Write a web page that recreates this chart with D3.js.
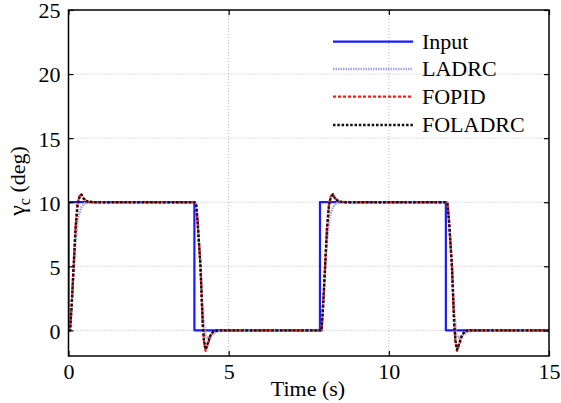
<!DOCTYPE html>
<html>
<head>
<meta charset="utf-8">
<script src="https://cdn.jsdelivr.net/npm/d3@7"></script>
<style>
  html, body { margin: 0; padding: 0; background: #fff; }
  svg { display: block; }
</style>
</head>
<body>
<svg id="chart" width="561" height="403"></svg>
<script>
// ---------------- data ----------------
const xTicks = [0, 5, 10, 15];
const yTicks = [0, 5, 10, 15, 20, 25];
const seriesNames = ["Input", "LADRC", "FOPID", "FOLADRC"];

const inputT = [0, 0, 3.93, 3.93, 7.85, 7.85, 11.78, 11.78, 15];
const inputV = [0, 10, 10, 0, 0, 10, 10, 0, 0];

const ladrcT = [0, 0.05, 0.10, 0.16, 0.22, 0.30, 0.40, 0.52, 0.70,
  3.93, 3.98, 4.03, 4.12, 4.19, 4.26, 4.33, 4.45, 4.60, 4.80,
  7.85, 7.90, 7.95, 8.01, 8.07, 8.15, 8.25, 8.37, 8.55,
  11.78, 11.83, 11.88, 11.97, 12.04, 12.11, 12.18, 12.30, 12.45, 12.65, 15];
const ladrcV = [0, 0, 2.0, 4.6, 7.0, 8.8, 9.6, 9.95, 10,
  10, 10, 8.5, 5.0, 1.5, -0.3, -0.6, -0.4, -0.15, 0,
  0, 0, 2.0, 4.6, 7.0, 8.8, 9.6, 9.95, 10,
  10, 10, 8.5, 5.0, 1.5, -0.3, -0.6, -0.4, -0.15, 0, 0];

const fopidT = [0, 0.05, 0.10, 0.16, 0.22, 0.28, 0.33, 0.39, 0.47, 0.60, 0.80,
  3.93, 3.98, 4.03, 4.12, 4.19, 4.23, 4.28, 4.35, 4.43, 4.53, 4.68,
  7.85, 7.90, 7.95, 8.01, 8.07, 8.13, 8.18, 8.24, 8.32, 8.45, 8.65,
  11.78, 11.83, 11.88, 11.97, 12.04, 12.08, 12.13, 12.20, 12.28, 12.38, 12.53, 15];
const fopidV = [0, 0, 2.0, 5.0, 8.0, 9.8, 10.4, 10.7, 10.3, 10.05, 10,
  10, 9.9, 8.5, 5.0, 0.5, -0.9, -1.6, -1.1, -0.4, -0.05, 0,
  0, 0, 2.0, 5.0, 8.0, 9.8, 10.4, 10.7, 10.3, 10.05, 10,
  10, 9.9, 8.5, 5.0, 0.5, -0.9, -1.6, -1.1, -0.4, -0.05, 0, 0];

const foladrcT = [0, 0.05, 0.10, 0.16, 0.22, 0.28, 0.33, 0.40, 0.48, 0.60, 0.80,
  3.93, 3.98, 4.03, 4.12, 4.19, 4.23, 4.28, 4.35, 4.43, 4.53, 4.68,
  7.85, 7.90, 7.95, 8.01, 8.07, 8.13, 8.18, 8.25, 8.33, 8.45, 8.65,
  11.78, 11.83, 11.88, 11.97, 12.04, 12.08, 12.13, 12.20, 12.28, 12.38, 12.53, 15];
const foladrcV = [0, 0, 2.0, 5.0, 8.0, 9.7, 10.3, 10.6, 10.25, 10.05, 10,
  10, 9.9, 8.5, 5.0, 0.5, -0.8, -1.5, -1.0, -0.4, -0.05, 0,
  0, 0, 2.0, 5.0, 8.0, 9.7, 10.3, 10.6, 10.25, 10.05, 10,
  10, 9.9, 8.5, 5.0, 0.5, -0.8, -1.5, -1.0, -0.4, -0.05, 0, 0];

// ---------------- layout ----------------
const FONT = "'Liberation Serif', 'Times New Roman', Times, serif";
const svg = d3.select("#chart").style("font-family", FONT);
const L = 68.5, R = 549, T = 10, B = 356;
const x = d3.scaleLinear().domain([0, 15]).range([L, R]);
const y = d3.scaleLinear().domain([-2, 25]).range([B, T]);

const styles = {
  "Input":   { stroke: "#1a1aff", width: 2.2, dash: null },
  "LADRC":   { stroke: "#a4a4dc", width: 2.4, dash: "1.5,1" },
  "FOPID":   { stroke: "#ff1a1a", width: 2.3, dash: "3,2" },
  "FOLADRC": { stroke: "#111111", width: 2.4, dash: "2.5,1.8" }
};

// grid
const grid = svg.append("g");
grid.selectAll("line.gx").data(xTicks.filter(d => d > 0 && d < 15)).join("line")
  .attr("x1", d => x(d)).attr("x2", d => x(d)).attr("y1", T).attr("y2", B)
  .attr("stroke", "#b8b8b8").attr("stroke-width", 1).attr("stroke-dasharray", "1,2");
grid.selectAll("line.gy").data(yTicks.filter(d => d < 25)).join("line")
  .attr("x1", L).attr("x2", R).attr("y1", d => y(d)).attr("y2", d => y(d))
  .attr("stroke", "#b8b8b8").attr("stroke-width", 1).attr("stroke-dasharray", "1,2");

// series
const series = [
  { name: "Input", t: inputT, v: inputV },
  { name: "LADRC", t: ladrcT, v: ladrcV },
  { name: "FOPID", t: fopidT, v: fopidV },
  { name: "FOLADRC", t: foladrcT, v: foladrcV }
];
const line = d3.line().x(d => x(d[0])).y(d => y(d[1]));
svg.append("defs").append("clipPath").attr("id", "clip")
  .append("rect").attr("x", L).attr("y", T).attr("width", R - L).attr("height", B - T);
const lines = svg.append("g").attr("clip-path", "url(#clip)");
series.forEach(s => {
  const st = styles[s.name];
  lines.append("path")
    .datum(s.t.map((t, i) => [t, s.v[i]]))
    .attr("d", line)
    .attr("fill", "none")
    .attr("stroke", st.stroke)
    .attr("stroke-width", st.width)
    .attr("stroke-dasharray", st.dash)
    .attr("stroke-linejoin", "round");
});

// axes (inward ticks, boxed)
const fontSize = 22;
const axB = svg.append("g").attr("transform", `translate(0,${B})`)
  .call(d3.axisBottom(x).tickValues(xTicks).tickSize(-5).tickPadding(10).tickFormat(d3.format("d")));
const axL = svg.append("g").attr("transform", `translate(${L},0)`)
  .call(d3.axisLeft(y).tickValues(yTicks).tickSize(-5).tickPadding(10).tickFormat(d3.format("d")));
const axT = svg.append("g").attr("transform", `translate(0,${T})`)
  .call(d3.axisTop(x).tickValues(xTicks).tickSize(-5).tickFormat(""));
const axR = svg.append("g").attr("transform", `translate(${R},0)`)
  .call(d3.axisRight(y).tickValues(yTicks).tickSize(-5).tickFormat(""));
[axB, axL, axT, axR].forEach(a => {
  a.attr("font-family", FONT).attr("font-size", fontSize);
  a.select(".domain").remove();
  a.selectAll(".tick line").attr("stroke", "#000").attr("stroke-width", 1.2);
  a.selectAll("text").style("font-family", FONT).style("font-size", fontSize + "px").attr("fill", "#000");
});
axB.selectAll(".tick text").attr("dy", "0.71em").attr("y", 7);
axL.selectAll(".tick text").attr("x", -8).attr("dy", "0.36em");

svg.append("rect").attr("x", L).attr("y", T).attr("width", R - L).attr("height", B - T)
  .attr("fill", "none").attr("stroke", "#000").attr("stroke-width", 1.5);

// axis labels
svg.append("text").attr("x", 308).attr("y", 396).attr("text-anchor", "middle")
  .style("font-family", FONT).style("font-size", fontSize + "px").text("Time (s)");
const yl = svg.append("text").attr("transform", "translate(25,181) rotate(-90)")
  .attr("text-anchor", "middle").style("font-family", FONT).style("font-size", fontSize + "px");
yl.append("tspan").style("font-size", "24px").text("γ");
yl.append("tspan").style("font-size", "16px").attr("dy", 5).text("c");
yl.append("tspan").attr("dy", -5).text(" (deg)");

// legend
const legY = [41.7, 69, 96.7, 125];
const leg = svg.append("g");
seriesNames.forEach((n, i) => {
  const st = styles[n];
  leg.append("line").attr("x1", 333).attr("x2", 413).attr("y1", legY[i]).attr("y2", legY[i])
    .attr("stroke", st.stroke).attr("stroke-width", st.width).attr("stroke-dasharray", st.dash);
  leg.append("text").attr("x", 422).attr("y", legY[i] + 7)
    .style("font-family", FONT).style("font-size", fontSize + "px").text(n);
});
</script>
</body>
</html>
